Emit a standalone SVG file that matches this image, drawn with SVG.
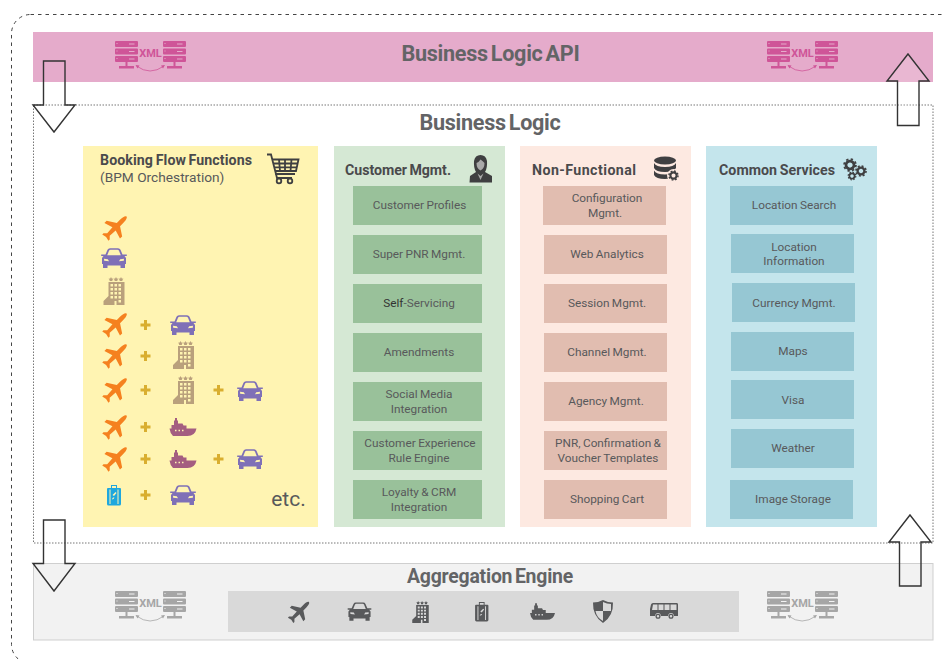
<svg xmlns="http://www.w3.org/2000/svg" xmlns:xlink="http://www.w3.org/1999/xlink" width="944" height="659" viewBox="0 0 944 659">
<style>
text{font-family:Roboto,"Liberation Sans",sans-serif;fill:#58595b;text-anchor:middle}
.h1{font-size:21.6px;font-weight:700;fill:#636466;letter-spacing:-.3px;word-spacing:-2px}
.h2{font-size:19.4px;font-weight:700;fill:#636466;letter-spacing:-.2px;word-spacing:-2px}
.h3{font-size:14.2px;font-weight:700;fill:#4a4a4c;text-anchor:start;word-spacing:-1px}
.sub{font-size:13.7px;text-anchor:start}
.b{font-size:11.8px;word-spacing:-.5px}
.xml{font-size:11px;font-weight:700}
.arrow{fill:none;stroke:#333;stroke-width:1.4}
.plus{fill:#d9ae2f}
.orange{color:#f5811f}.purple{color:#7f70b7}.tan{color:#b9a07c}.ship{color:#a45d80}.blue{color:#1ea7de}.dark{color:#58595b}
.pink{color:#cf5598}.grey{color:#a6a6a6}
</style>
<defs>
<symbol id="plane" overflow="visible" viewBox="-15 -15 30 30" width="30" height="30">
<path transform="rotate(45) scale(.88)" fill="currentColor" d="M0-18.500C1.700-18.500 2.600-15 2.600-11V-5.500L12.500 1V4.500L2.600 1.500 2 10.500 5 13.500V15.500L0 14.300-5 15.500V13.500L-2 10.500-2.600 1.500-12.500 4.500V1L-2.600-5.500V-11C-2.600-15-1.700-18.500 0-18.500Z"/>
</symbol>
<symbol id="car" overflow="visible" viewBox="0 0 26 20" width="26" height="20">
<path fill="currentColor" fill-rule="evenodd" d="M4.500 6.500 6.500 1.800Q7.200 .3 9 .3H17Q18.800 .3 19.500 1.800L21.500 6.500H25.800V8H23.500L25 10V16H24V20H19.500V17.500H6.500V20H2V16H1V10L2.500 8H.2V6.500ZM6.200 7.200H19.800L18 2.800Q17.500 1.700 16.500 1.700H9.500Q8.500 1.700 8 2.800ZM3 10.800 3.200 12.800 8 13.200 6.800 11.200ZM23 10.800 22.800 12.800 18 13.200 19.200 11.200Z"/>
</symbol>
<symbol id="hotel" overflow="visible" viewBox="0 0 21 28" width="21" height="28">
<path fill="currentColor" fill-rule="evenodd" d="M5 5H21V28H13V24H11V28H0V24L5 19ZM7 7V9.500H9.500V7ZM11 7V9.500H13.500V7ZM15 7V9.500H17.500V7ZM7 11V13.500H9.500V11ZM11 11V13.500H13.500V11ZM15 11V13.500H17.500V11ZM7 15V17.500H9.500V15ZM11 15V17.500H13.500V15ZM15 15V17.500H17.500V15ZM7 19V21.500H9.500V19ZM11 19V21.500H13.500V19ZM15 19V21.500H17.500V19ZM15 23V25.500H17.500V23Z"/>
<path fill="currentColor" d="M7.500 0 8.300 1.500 10 1.800 8.800 3 9 4H6L6.200 3 5 1.800 6.700 1.500ZM12.500 0 13.300 1.500 15 1.800 13.800 3 14 4H11L11.200 3 10 1.800 11.700 1.500ZM17.500 0 18.300 1.500 20 1.800 18.800 3 19 4H16L16.200 3 15 1.800 16.700 1.500Z"/>
</symbol>
<symbol id="shipi" overflow="visible" viewBox="0 0 27 18" width="27" height="18">
<path fill="currentColor" fill-rule="evenodd" d="M5.500 0H7.500V2.500H8.500V5.500H13L14 7.500H17V10.500H27Q25.500 18 18 18H3.500Q.5 15 0 10.500H2V7H4.500V2.500H5.500ZM5.500 11.800V13.300H7V11.800ZM9 11.800V13.300H10.500V11.800ZM12.500 11.800V13.300H14V11.800Z"/>
</symbol>
<symbol id="case" overflow="visible" viewBox="0 0 14 21" width="14" height="21">
<path fill="currentColor" fill-rule="evenodd" d="M4 0H10V3H13Q14 3 14 4V19Q14 20.500 12.500 20.500H1.500Q0 20.500 0 19V4Q0 3 1 3H4ZM5 1V3H9V1ZM2.500 4.500V19H3.500V4.500ZM10.500 4.500V19H11.500V4.500ZM8.500 7 5.500 10 7 11 9.500 8ZM6 12.500 4.800 14.500 6.500 14 7.500 12.500Z"/>
</symbol>
<symbol id="shield" overflow="visible" viewBox="0 0 20 23" width="20" height="23">
<path fill="currentColor" d="M10 0Q15 2.500 20 2.500Q20.500 16 10 23Q-.5 16 0 2.500Q5 2.500 10 0Z"/>
<path fill="#d9d9d9" d="M10 2V11H18Q18 4.500 18 4Q14 4 10 2ZM10 11H2.500Q3.500 17.500 10 21Z"/>
</symbol>
<symbol id="bus" overflow="visible" viewBox="0 0 28 16" width="28" height="16">
<path fill="currentColor" fill-rule="evenodd" d="M3 0H27Q28 0 28 1.500V13H24Q23.500 10 21 10T18 13H11Q10.500 10 8 10T5 13H0V6L1 1.500Q1.500 0 3 0ZM3 1.500 2 7H7.500V1.500ZM8.500 1.500V7H13.500V1.500ZM14.500 1.500V7H19.500V1.500ZM20.500 1.500V7H26.500V1.500Z"/>
<circle cx="8" cy="13.300" r="1.900" fill="none" stroke="currentColor" stroke-width="1.300"/>
<circle cx="21" cy="13.300" r="1.900" fill="none" stroke="currentColor" stroke-width="1.300"/>
</symbol>
<g id="srv">
<path fill="currentColor" fill-rule="evenodd" d="M1 0H22Q23 0 23 1V5Q23 6 22 6H1Q0 6 0 5V1Q0 0 1 0ZM14 2.500V3.500H19.500V2.500ZM1.500 2V3H2.500V2ZM1 7.500H22Q23 7.500 23 8.500V12.500Q23 13.500 22 13.500H1Q0 13.500 0 12.500V8.500Q0 7.500 1 7.500ZM14 10V11H19.500V10ZM1.500 9.500V10.500H2.500V9.500ZM1 15H22Q23 15 23 16V20Q23 21 22 21H1Q0 21 0 20V16Q0 15 1 15ZM14 17.500V18.500H19.500V17.500ZM1.500 17V18H2.500V17Z"/>
<path fill="currentColor" d="M10.500 21H12.500V25H19V27.500H4V25H10.500Z"/>
</g>
<g id="xmlpair">
<use xlink:href="#srv" href="#srv"/>
<use xlink:href="#srv" href="#srv" x="48"/>
<text class="xml" x="35.500" y="16" style="fill:currentColor">XML</text>
<path d="M21.500 25Q35 35 49 25" fill="none" stroke="currentColor" stroke-width=".8"/>
<path d="M20.500 24 24.500 24.500 22.500 27.500ZM50 24 46 24.500 48 27.500Z" fill="currentColor"/>
</g>
<path id="pl" d="M-1.500-5H1.500V-1.500H5V1.500H1.500V5H-1.500V1.500H-5V-1.500H-1.500Z" class="plus"/>
<g id="gear">
<circle r="3.800" fill="none" stroke="currentColor" stroke-width="2.600"/>
<circle r="5.600" fill="none" stroke="currentColor" stroke-width="1.800" stroke-dasharray="2.200 2.200"/>
</g>
</defs>

<rect id="outer-boundary" x="11.500" y="14.500" width="960" height="649" rx="19" fill="none" stroke="#444" stroke-width="1" stroke-dasharray="3.500 4"/>

<g id="business-logic-api">
<rect x="33" y="32" width="900" height="50" fill="#e5abcb"/>
<text class="h1" x="490.500" y="61">Business Logic API</text>
<use class="pink" xlink:href="#xmlpair" href="#xmlpair" x="115" y="41"/>
<use class="pink" xlink:href="#xmlpair" href="#xmlpair" x="767" y="41"/>
</g>

<g id="business-logic">
<rect x="33.500" y="105" width="899.500" height="438" fill="none" stroke="#777" stroke-width="1" stroke-dasharray="1.500 1.500"/>
<text class="h1" x="490" y="130">Business Logic</text>
</g>

<g id="booking-flow">
<rect x="83" y="146" width="235" height="381" fill="#fff4b2"/>
<text class="h3" x="100" y="165" textLength="152">Booking Flow Functions</text>
<text class="sub" x="100" y="182">(BPM Orchestration)</text>
<g fill="none" stroke="#3f3f41" stroke-width="1.800">
<path d="M267 154.500H271L276 174H295"/>
<path d="M272 159.500H298.500L296 171H275"/>
<path d="M273.500 163.500H297.500M274.500 167.300H296.500M279 159.500 280 171M285 159.500V171M291.500 159.500 290.500 171"/>
<circle cx="279" cy="181" r="2.300"/><circle cx="290" cy="181" r="2.300"/>
<path d="M276 174 277 178H292"/>
</g>
<use class="orange" href="#plane" xlink:href="#plane" x="100" y="213"/>
<use class="purple" href="#car" xlink:href="#car" x="101" y="248"/>
<use class="tan" href="#hotel" xlink:href="#hotel" x="103.500" y="277"/>
<use class="orange" href="#plane" xlink:href="#plane" x="100" y="310"/>
<use href="#pl" xlink:href="#pl" x="145.500" y="325"/>
<use class="purple" href="#car" xlink:href="#car" x="170" y="315"/>
<use class="orange" href="#plane" xlink:href="#plane" x="100" y="341"/>
<use href="#pl" xlink:href="#pl" x="145.500" y="356"/>
<use class="tan" href="#hotel" xlink:href="#hotel" x="173" y="341"/>
<use class="orange" href="#plane" xlink:href="#plane" x="100" y="375"/>
<use href="#pl" xlink:href="#pl" x="145.500" y="390"/>
<use class="tan" href="#hotel" xlink:href="#hotel" x="173" y="376"/>
<use href="#pl" xlink:href="#pl" x="218.500" y="390"/>
<use class="purple" href="#car" xlink:href="#car" x="237" y="381"/>
<use class="orange" href="#plane" xlink:href="#plane" x="100" y="412"/>
<use href="#pl" xlink:href="#pl" x="145.500" y="427"/>
<use class="ship" href="#shipi" xlink:href="#shipi" x="169.500" y="418"/>
<use class="orange" href="#plane" xlink:href="#plane" x="100" y="444"/>
<use href="#pl" xlink:href="#pl" x="145.500" y="459"/>
<use class="ship" href="#shipi" xlink:href="#shipi" x="169.500" y="450"/>
<use href="#pl" xlink:href="#pl" x="218.500" y="459"/>
<use class="purple" href="#car" xlink:href="#car" x="237" y="449"/>
<use class="blue" href="#case" xlink:href="#case" x="107" y="485"/>
<use href="#pl" xlink:href="#pl" x="145.500" y="495"/>
<use class="purple" href="#car" xlink:href="#car" x="170" y="485"/>
<text x="288.500" y="506" style="font-size:21px">etc.</text>
</g>

<g id="customer-mgmt">
<rect x="334" y="146" width="171" height="381" fill="#d5e8d4"/>
<text class="h3" x="345" y="175" textLength="106">Customer Mgmt.</text>
<path fill="#3f3f41" d="M480.500 155Q475 155 474 161Q473.500 168 476 172L470 176 469.500 182.500H492V176L485 172Q487.500 168 487 161Q486 155 480.500 155Z"/>
<path fill="#a9a9a9" d="M480.500 159.500Q483 161 484.500 163Q484.500 168.500 480.500 170.500Q476.500 168.500 476.500 163Q479 162 480.500 159.500ZM477.500 173.500 480.500 176 483.500 173.500 480.500 180Z"/>
<g fill="#99c19a">
<rect x="353" y="186" width="129" height="39"/><rect x="353" y="235" width="129" height="39"/><rect x="353" y="284" width="129" height="39"/><rect x="353" y="333" width="129" height="39"/><rect x="353" y="382" width="129" height="39"/><rect x="353" y="431" width="129" height="39"/><rect x="353" y="480" width="129" height="39"/>
</g>
<text class="b" x="419.500" y="209">Customer Profiles</text>
<text class="b" x="419" y="258">Super PNR Mgmt.</text>
<text class="b" x="419" y="307"><tspan style="fill:#333">Self</tspan>-Servicing</text>
<text class="b" x="419" y="356">Amendments</text>
<text class="b" x="419" y="398">Social Media</text><text class="b" x="419" y="413">Integration</text>
<text class="b" x="420" y="447">Customer Experience</text><text class="b" x="419" y="462">Rule Engine</text>
<text class="b" x="419" y="496">Loyalty &amp; CRM</text><text class="b" x="419" y="511">Integration</text>
</g>

<g id="non-functional">
<rect x="520" y="146" width="171" height="381" fill="#fde9e1"/>
<text class="h3" x="532" y="175" textLength="104">Non-Functional</text>
<g fill="#3f3f41">
<ellipse cx="665" cy="160.500" rx="11" ry="4"/>
<path d="M654 163Q656 167 665 167T676 163V168Q674 172 665 172T654 168ZM654 170.500Q656 174.500 665 174.500T676 170.500V175Q670 179 665 179Q656 179 654 175Z"/>
</g>
<circle cx="673.500" cy="175.500" r="6.500" fill="#fde9e1"/>
<use style="color:#3f3f41" href="#gear" xlink:href="#gear" transform="translate(673.500 175.500) scale(.81)"/>
<g fill="#e1bdb0">
<rect x="543" y="186" width="123" height="39"/><rect x="544" y="235" width="123" height="39"/><rect x="544" y="284" width="123" height="39"/><rect x="544" y="333" width="123" height="39"/><rect x="544" y="382" width="123" height="39"/><rect x="544" y="431" width="123" height="39"/><rect x="544" y="480" width="123" height="39"/>
</g>
<text class="b" x="607" y="202">Configuration</text><text class="b" x="605" y="217">Mgmt.</text>
<text class="b" x="607" y="258">Web Analytics</text>
<text class="b" x="607" y="307">Session Mgmt.</text>
<text class="b" x="607" y="356">Channel Mgmt.</text>
<text class="b" x="606" y="405">Agency Mgmt.</text>
<text class="b" x="608" y="447">PNR, Confirmation &amp;</text><text class="b" x="608" y="462">Voucher Templates</text>
<text class="b" x="607" y="503">Shopping Cart</text>
</g>

<g id="common-services">
<rect x="706" y="146" width="171" height="381" fill="#c4e5ec"/>
<text class="h3" x="719" y="175" textLength="116">Common Services</text>
<g style="color:#3f3f41">
<use href="#gear" xlink:href="#gear" transform="translate(850 165) scale(1.05)"/>
<use href="#gear" xlink:href="#gear" transform="translate(861 171) scale(.9)"/>
<use href="#gear" xlink:href="#gear" transform="translate(852 176) scale(.68)"/>
</g>
<g fill="#96c7d3">
<rect x="730" y="186" width="123" height="39"/><rect x="731" y="234" width="123" height="39"/><rect x="732" y="283" width="123" height="39"/><rect x="731" y="332" width="123" height="39"/><rect x="731" y="380" width="123" height="39"/><rect x="731" y="429" width="123" height="39"/><rect x="730" y="480" width="123" height="39"/>
</g>
<text class="b" x="794" y="209">Location Search</text>
<text class="b" x="794" y="251">Location</text><text class="b" x="794" y="265">Information</text>
<text class="b" x="794" y="307">Currency Mgmt.</text>
<text class="b" x="793" y="355">Maps</text>
<text class="b" x="793" y="404">Visa</text>
<text class="b" x="793" y="452">Weather</text>
<text class="b" x="793" y="503">Image Storage</text>
</g>

<g id="aggregation-engine">
<rect x="33.500" y="563.500" width="899.500" height="76.500" fill="#f2f2f2" stroke="#cfcfcf" stroke-width="1"/>
<text class="h2" x="490" y="583">Aggregation Engine</text>
<rect x="228" y="591" width="511" height="41" fill="#d9d9d9"/>
<use class="grey" xlink:href="#xmlpair" href="#xmlpair" x="115" y="591"/>
<use class="grey" xlink:href="#xmlpair" href="#xmlpair" x="767" y="591"/>
<g class="dark">
<use href="#plane" xlink:href="#plane" x="286" y="599" width="26" height="26"/>
<use href="#car" xlink:href="#car" x="347.500" y="602" width="24" height="19"/>
<use href="#hotel" xlink:href="#hotel" x="412" y="601" width="17" height="22"/>
<use href="#case" xlink:href="#case" x="475" y="602" width="13.500" height="20"/>
<use href="#shipi" xlink:href="#shipi" x="530" y="603" width="25" height="17"/>
<use href="#shield" xlink:href="#shield" x="593" y="600" width="20" height="23"/>
<use href="#bus" xlink:href="#bus" x="650" y="603" width="28" height="16"/>
</g>
</g>

<g id="connectors">
<path class="arrow" d="M43.500 61H65V105H75L54 132 33 105H43.500Z"/>
<path class="arrow" d="M43.500 520H65V563.500H75L54 591 33 563.500H43.500Z"/>
<path class="arrow" style="fill:#fff;fill-opacity:.15" d="M908 54 929 81H919V125.500H897.500V81H887Z"/>
<path class="arrow" d="M910 515 931 542H921V586H899.500V542H889Z"/>
</g>
</svg>
